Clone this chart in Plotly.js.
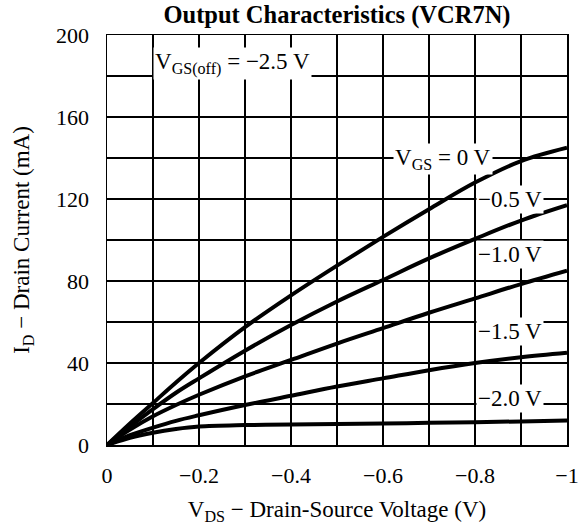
<!DOCTYPE html>
<html>
<head>
<meta charset="utf-8">
<script src="https://cdn.plot.ly/plotly-3.0.1.min.js"></script>
<style>html,body{margin:0;padding:0;background:#fff;}#chart{width:578px;height:527px;}</style>
</head>
<body>
<div id="chart"></div>
<script>
// Drain-source voltage (V)
var vds = [0, -0.05, -0.1, -0.15, -0.2, -0.3, -0.4, -0.5, -0.6, -0.7, -0.8, -0.9, -1.0];
// Drain current (mA) for each gate-source voltage
var id_vgs0   = [0, 10.5, 20.5, 30.5, 40, 57.5, 73, 87.5, 101.5, 115, 128, 138.5, 145];
var id_vgs05  = [0, 9, 17.5, 25.5, 32.5, 46, 58.5, 70, 80.5, 91, 100.5, 109.5, 117];
var id_vgs10  = [0, 7.5, 14, 19.5, 24.5, 33.5, 41.5, 49.5, 57, 64.5, 71.5, 78.5, 85];
var id_vgs15  = [0, 4.8, 8.5, 11.8, 14.5, 19.5, 24, 28.5, 32.5, 36.5, 40, 42.8, 45];
var id_vgs20  = [0, 3.5, 6, 7.8, 9, 9.7, 10, 10.3, 10.5, 10.8, 11.1, 11.5, 11.9];

var xTickVals = [0, -0.1, -0.2, -0.3, -0.4, -0.5, -0.6, -0.7, -0.8, -0.9, -1.0];
var xTickText = ['0', '', '\u22120.2', '', '\u22120.4', '', '\u22120.6', '', '\u22120.8', '', '\u22121'];
var yTickVals = [0, 20, 40, 60, 80, 100, 120, 140, 160, 180, 200];
var yTickText = ['0', '', '40', '', '80', '', '120', '', '160', '', '200'];

var curveLabels = ['V<sub>GS</sub> = 0 V', '\u22120.5 V', '\u22121.0 V', '\u22121.5 V', '\u22122.0 V'];
var offLabel = 'V<sub>GS(off)</sub> = \u22122.5 V';

var FONT = 'Liberation Serif, Times New Roman, serif';
var series = [id_vgs0, id_vgs05, id_vgs10, id_vgs15, id_vgs20];
var traces = series.map(function (ys) {
  return {x: vds, y: ys, mode: 'lines', type: 'scatter',
          line: {color: '#000', width: 4, shape: 'spline', smoothing: 1},
          hoverinfo: 'skip', showlegend: false};
});

var labelPos = [
  {x: -0.73, y: 139.5},
  {x: -0.876, y: 120},
  {x: -0.876, y: 92.7},
  {x: -0.876, y: 55.6},
  {x: -0.876, y: 22.9}
];
var annotations = curveLabels.map(function (t, i) {
  return {x: labelPos[i].x, y: labelPos[i].y, xref: 'x', yref: 'y', text: t,
          showarrow: false, bgcolor: '#fff', borderpad: 1,
          font: {family: FONT, size: 23, color: '#000'}};
});
annotations.push({x: -0.272, y: 186, xref: 'x', yref: 'y', text: offLabel,
  showarrow: false, bgcolor: '#fff', borderpad: 1,
  font: {family: FONT, size: 23, color: '#000'}});

var layout = {
  width: 578, height: 527,
  margin: {l: 107, r: 11, t: 35, b: 82},
  paper_bgcolor: '#fff', plot_bgcolor: '#fff',
  font: {family: FONT, size: 22, color: '#000'},
  title: {text: '<b>Output Characteristics (VCR7N)</b>', x: 0.5, xref: 'paper',
          y: 0.973, yref: 'container', yanchor: 'middle',
          font: {family: FONT, size: 24.5, color: '#000'}},
  xaxis: {range: [0, -1], autorange: false, tickvals: xTickVals, ticktext: xTickText,
          showgrid: true, gridcolor: '#000', gridwidth: 1.3, zeroline: false,
          showline: true, linecolor: '#000', linewidth: 1.5, mirror: true,
          ticks: '', ticklabelstandoff: 10, ticklabeloverflow: 'allow',
          tickfont: {family: FONT, size: 22, color: '#000'},
          title: {text: 'V<sub>DS</sub> \u2212 Drain-Source Voltage (V)', standoff: 14,
                  font: {family: FONT, size: 23, color: '#000'}}},
  yaxis: {range: [0, 200], autorange: false, tickvals: yTickVals, ticktext: yTickText,
          showgrid: true, gridcolor: '#000', gridwidth: 1.3, zeroline: false,
          showline: true, linecolor: '#000', linewidth: 1.5, mirror: true,
          ticks: '', ticklabelstandoff: 12, ticklabeloverflow: 'allow',
          tickfont: {family: FONT, size: 22, color: '#000'},
          title: {text: 'I<sub>D</sub> \u2212 Drain Current (mA)', standoff: 20,
                  font: {family: FONT, size: 23, color: '#000'}}},
  annotations: annotations
};

Plotly.newPlot('chart', traces, layout, {staticPlot: true, displayModeBar: false});
</script>
</body>
</html>
